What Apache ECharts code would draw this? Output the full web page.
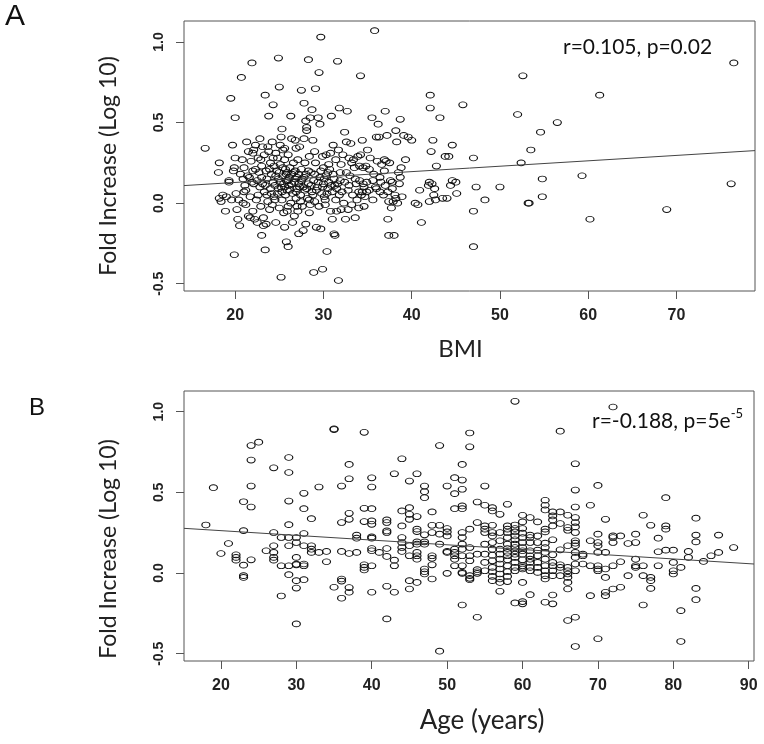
<!DOCTYPE html>
<html>
<head>
<meta charset="utf-8">
<script src="https://cdn.jsdelivr.net/npm/echarts@6/dist/echarts.min.js"></script>
<style>html,body{margin:0;padding:0;background:#fff;}#c{width:764px;height:744px;}</style>
</head>
<body>
<div id="c"></div>
<script>
// ---- Panel A: BMI vs fold increase ----
const pointsA = [
[16.6,0.34],[18.1,0.19],[18.2,0.25],[18.2,0.03],[18.4,0.01],[18.6,0.05],[18.9,-0.05],[19.0,0.04],[19.3,0.13],[19.3,0.14],[19.5,0.65],[19.7,0.36],[19.9,0.22],[20.0,0.28],[20.0,0.53],[19.9,-0.32],[19.6,0.02],[19.8,0.20],
[20.1,0.06],[20.2,-0.04],[20.3,-0.10],[20.5,-0.14],[20.4,0.02],[20.7,0.78],[20.8,0.27],[20.9,0.15],[20.9,0.00],[21.0,0.07],[21.1,0.11],[21.2,-0.01],[21.3,0.38],[21.4,0.17],[21.5,0.32],[21.5,-0.08],[21.6,0.16],[21.7,0.04],[21.8,0.26],[21.9,0.87],[21.9,0.13],[22.0,0.31],[22.0,-0.05],[22.1,0.12],[22.1,0.33],[21.2,0.08],[20.6,0.18],[21.7,-0.09],[22.2,-0.10],[22.3,0.21],[22.3,0.36],
[22.4,0.02],[22.5,0.14],[22.5,-0.12],[22.6,0.05],[22.7,0.19],[22.8,0.40],[22.8,0.10],[22.9,-0.02],[23.0,0.23],[23.0,-0.20],[23.1,0.35],[23.1,0.12],[23.2,-0.09],[23.3,0.30],[23.3,0.07],[23.4,0.67],[23.4,-0.29],[23.5,0.20],[23.5,-0.13],[23.6,0.15],[23.7,0.01],[23.8,0.32],[23.8,0.54],[23.9,-0.04],[24.0,0.25],[24.0,0.09],[24.1,0.18],[24.2,0.38],[24.2,-0.01],[24.3,0.61],[24.3,0.13],[23.6,0.05],[22.9,0.27],[24.4,0.04],[24.4,0.23],[23.2,-0.14],
[24.5,0.11],[24.6,-0.12],[24.6,0.31],[24.7,0.20],[24.8,0.06],[24.9,0.90],[24.9,0.15],[25.0,0.72],[25.0,-0.03],[25.1,0.36],[25.1,0.24],[25.2,0.41],[25.2,0.10],[25.2,-0.46],[25.3,0.46],[25.3,0.02],[25.4,0.17],[25.4,0.33],[25.5,0.12],[25.5,-0.06],[25.6,0.27],[25.6,-0.15],[25.7,0.21],[25.7,0.05],[25.8,0.14],[25.8,-0.24],[25.9,0.19],[25.9,0.08],[26.0,-0.02],[26.0,0.30],[26.0,-0.27],[26.1,0.16],[26.1,0.11],[26.2,0.22],[25.0,0.19],[24.8,0.28],[25.3,0.07],[25.6,0.34],
[26.3,0.54],[26.3,0.00],[26.4,0.18],[26.4,0.40],[26.5,-0.12],[26.5,0.06],[26.6,0.25],[26.7,0.13],[26.7,-0.08],[26.8,0.20],[26.8,0.39],[26.9,0.03],[27.0,0.16],[27.0,0.09],[27.1,-0.05],[27.1,0.27],[27.2,-0.19],[27.2,0.12],[27.3,0.35],[27.4,0.05],[27.5,0.70],[27.5,0.21],[27.6,-0.02],[27.6,0.15],[27.7,0.10],[27.7,-0.17],[27.8,0.62],[27.8,0.40],[27.9,0.08],[27.9,0.25],[28.0,0.51],[28.0,-0.13],[28.0,0.18],[26.9,0.34],[27.4,0.01],
[28.1,0.45],[28.1,0.47],[28.2,0.03],[28.3,0.12],[28.3,0.89],[28.4,-0.06],[28.4,0.29],[28.5,0.53],[28.6,0.19],[28.7,0.58],[28.7,0.07],[28.8,0.39],[28.9,-0.43],[28.9,0.14],[29.0,0.01],[29.1,0.71],[29.1,0.25],[29.2,-0.15],[29.3,0.10],[29.4,0.53],[29.5,0.81],[29.5,-0.02],[29.6,0.16],[29.6,0.49],[29.7,-0.16],[29.7,1.03],[29.8,0.06],[29.9,0.29],[29.9,-0.41],[30.0,0.12],[30.0,0.22],[28.5,-0.01],[29.0,0.32],
[30.1,0.04],[30.2,-0.01],[30.3,0.30],[30.3,0.17],[30.4,-0.30],[30.5,0.09],[30.6,0.13],[30.7,0.21],[30.8,-0.05],[30.8,0.31],[30.9,0.54],[31.0,0.07],[31.0,-0.10],[31.1,0.36],[31.2,0.15],[31.2,-0.19],[31.3,-0.20],[31.4,0.02],[31.4,0.27],[31.5,-0.05],[31.6,0.88],[31.6,0.12],[31.7,-0.48],[31.7,0.33],[31.8,0.59],[31.8,0.05],[31.9,0.19],[32.0,-0.04],[32.0,0.24],[30.5,0.19],[31.3,0.11],
[32.2,0.30],[32.3,0.00],[32.4,0.44],[32.4,0.13],[32.5,-0.10],[32.6,0.38],[32.7,0.57],[32.8,0.08],[32.9,0.28],[33.0,0.17],[33.1,0.37],[33.2,-0.01],[33.3,0.05],[33.5,0.22],[33.6,-0.09],[33.7,0.12],[33.8,0.02],[33.9,0.29],[34.0,0.07],[34.0,-0.03],[34.1,0.14],[33.4,0.27],
[34.2,0.79],[34.2,0.30],[34.3,0.05],[34.4,0.39],[34.5,0.22],[34.6,0.10],[34.7,0.04],[34.8,0.23],[34.9,0.13],[35.0,0.33],[35.2,0.08],[35.3,0.28],[35.5,0.53],[35.6,0.02],[35.7,0.18],[35.8,1.07],[35.9,0.10],[36.0,0.41],[36.1,0.26],[36.2,0.49],[34.4,0.07],
[36.3,0.41],[36.4,0.07],[36.5,0.13],[36.6,0.24],[36.8,0.05],[37.0,0.57],[37.1,0.26],[37.2,0.42],[37.3,-0.10],[37.4,0.01],[37.4,-0.20],[37.5,0.25],[37.6,0.14],[37.7,-0.03],[37.8,0.09],[37.9,0.01],[38.0,-0.20],[38.1,0.05],[38.2,0.45],[38.3,0.38],[38.4,0.00],[38.5,0.19],[38.6,0.12],[38.7,0.52],[38.8,0.22],[38.9,0.04],[39.1,0.42],[39.3,0.27],[39.6,0.41],[40.0,0.39],[37.0,0.11],[36.9,0.27],
[40.4,0.00],[40.7,-0.01],[40.9,0.08],[41.1,-0.12],[42.0,0.01],[42.1,0.67],[42.1,0.59],[42.2,0.32],[42.3,0.12],[42.4,0.39],[42.5,0.05],[42.6,0.09],[42.7,0.02],[42.8,0.23],[43.2,0.53],[43.5,0.03],[43.8,0.29],[44.0,0.03],[44.2,0.29],[44.4,0.11],[44.6,0.36],[44.6,0.14],[45.0,0.13],[45.1,0.06],[45.8,0.61],[47.0,0.28],[47.0,-0.05],[47.0,-0.27],[47.3,0.10],[48.3,0.02],[50.0,0.10],[41.9,0.11],[42.0,0.13],
[52.0,0.55],[52.4,0.25],[52.6,0.79],[53.2,0.00],[53.3,0.00],[53.5,0.33],[54.6,0.44],[54.8,0.15],[54.8,0.04],[56.5,0.50],[59.3,0.17],[60.2,-0.10],[61.3,0.67],[68.9,-0.04],[76.2,0.12],[76.5,0.87],
[23.0,0.16],[23.4,0.11],[23.9,0.21],[24.1,0.06],[24.3,0.28],[24.6,0.17],[24.9,0.09],[25.1,0.13],[25.4,0.22],[25.6,0.10],[25.8,0.18],[26.0,0.14],[26.2,0.08],[26.4,0.12],[26.6,0.19],[26.8,0.15],[26.9,0.07],[27.2,0.18],[27.3,0.10],[27.5,0.14],[27.8,0.16],[28.1,0.09],[28.3,0.20],[28.6,0.11],[28.8,0.05],[29.0,0.18],[29.2,0.08],[29.4,0.13],[29.7,0.20],[29.9,0.10],[30.1,0.15],[30.4,0.06],[30.6,0.24],[30.9,0.11],[31.1,0.18],[31.5,0.09],[31.9,0.14],[32.1,0.07],[32.6,0.19],[32.9,0.11],[33.2,0.25],[33.6,0.15],[34.1,0.23],[34.5,0.12],[34.9,0.07],[35.2,0.21],[35.6,0.14],[36.0,0.09],[36.4,0.16],[36.9,0.20],[37.3,0.07],[37.8,0.13],[38.2,0.03],[38.7,0.16],[22.6,0.28],[23.7,0.35],[24.5,0.02],[25.9,-0.05],[27.0,-0.02],[28.4,0.02],[30.2,0.02],[32.8,-0.04],[34.6,-0.02],[21.0,0.22],[22.0,0.20]
];
const fitLineA = [[14.2,0.109],[78.9,0.326]];
const xTicksA = [20,30,40,50,60,70];

// ---- Panel B: Age vs fold increase ----
const pointsB = [
[18,0.298],[19,0.529],[20,0.121],[21,0.183],
[22,0.113],[22,0.097],[22,0.080],
[23,0.442],[23,0.263],[23,0.049],[23,-0.016],[23,-0.027],
[24,0.790],[24,0.700],[24,0.539],[24,0.409],[24,0.082],
[25,0.811],[26,0.138],
[27,0.652],[27,0.251],[27,0.169],[27,0.128],[27,0.097],[27,0.080],
[28,0.220],[28,0.045],[28,-0.142],
[29,0.716],[29,0.623],[29,0.446],[29,0.300],[29,0.220],[29,0.169],[29,0.045],[29,-0.010],
[30,0.220],[30,0.189],[30,0.097],[30,0.051],[30,0.055],[30,-0.047],[30,-0.093],[30,-0.315],
[31,0.494],[31,0.399],[31,0.245],[31,0.169],[31,0.056],[31,0.045],[31,-0.041],
[32,0.337],[32,0.169],[32,0.148],[32,0.128],
[33,0.533],[33,0.128],
[34,0.134],[34,0.070],
[35,0.893],[35,0.889],[35,-0.088],
[36,0.539],[36,0.313],[36,0.134],[36,-0.037],[36,-0.050],[36,-0.156],
[37,0.673],[37,0.584],[37,0.370],[37,0.333],[37,0.121],[37,-0.090],[37,-0.119],
[38,0.235],[38,0.216],[38,0.128],
[39,0.872],[39,0.401],[39,0.319],[39,0.051],[39,0.035],[39,0.019],
[40,0.590],[40,0.533],[40,0.399],[40,0.323],[40,0.302],[40,0.224],[40,0.216],[40,0.152],[40,0.138],[40,0.045],[40,-0.119],
[41,0.128],
[42,0.329],[42,0.313],[42,0.261],[42,0.251],[42,0.152],[42,0.103],[42,-0.082],[42,-0.284],
[43,0.615],[43,0.080],[43,0.045],[43,-0.119],
[44,0.708],[44,0.385],[44,0.292],[44,0.220],[44,0.189],[44,0.158],[44,0.134],
[45,0.570],[45,0.405],[45,0.364],[45,0.333],[45,0.169],[45,0.107],[45,-0.047],[45,-0.099],
[46,0.615],[46,0.350],[46,0.272],[46,0.257],[46,0.193],[46,0.179],[46,0.128],[46,0.107],[46,0.086],[46,-0.058],
[47,0.539],[47,0.504],[47,0.467],[47,0.237],[47,0.193],[47,0.179],[47,0.025],[47,0.008],[47,-0.006],
[48,0.379],[48,0.296],[48,0.251],[48,0.107],[48,0.091],[48,0.051],[48,-0.037],
[49,0.790],[49,0.296],[49,0.241],[49,0.179],[49,-0.484],
[50,0.539],[50,0.276],[50,0.255],[50,0.230],[50,0.134],[50,0.128],[50,-0.002],
[51,0.591],[51,0.492],[51,0.399],[51,0.148],[51,0.128],[51,0.107],[51,0.086],[51,0.045],
[52,0.673],[52,0.576],[52,0.519],[52,0.416],[52,0.399],[52,0.251],[52,0.220],[52,0.179],[52,0.148],[52,0.107],[52,0.045],[52,0.004],[52,-0.002],[52,-0.198],
[53,0.868],[53,0.782],[53,0.272],[53,0.158],[53,0.107],[53,0.076],[53,-0.016],[53,-0.033],[53,-0.041],
[54,0.440],[54,0.313],[54,0.117],[54,0.021],[54,0.008],[54,-0.002],[54,-0.274],
[55,0.539],[55,0.420],[55,0.292],[55,0.272],[55,0.251],[55,0.179],[55,0.117],[55,0.066],[55,0.014],
[56,0.405],[56,0.385],[56,0.296],[56,0.251],[56,0.230],[56,0.189],[56,0.148],[56,0.111],[56,0.076],[56,0.035],[56,0.008],[56,-0.021],[56,-0.047],
[57,0.364],[57,0.251],[57,0.200],[57,0.148],[57,0.117],[57,0.086],[57,0.056],[57,0.025],[57,-0.006],[57,-0.037],[57,-0.058],[57,-0.113],
[58,0.426],[58,0.292],[58,0.272],[58,0.251],[58,0.220],[58,0.179],[58,0.152],[58,0.128],[58,0.107],[58,0.082],[58,0.045],[58,0.008],[58,-0.021],[58,-0.053],
[59,1.064],[59,0.298],[59,0.276],[59,0.255],[59,0.230],[59,0.206],[59,0.179],[59,0.158],[59,0.138],[59,0.117],[59,0.097],[59,0.066],[59,0.035],[59,0.014],[59,-0.185],
[60,0.358],[60,0.317],[60,0.276],[60,0.247],[60,0.220],[60,0.189],[60,0.158],[60,0.138],[60,0.117],[60,0.082],[60,0.045],[60,0.035],[60,0.025],[60,-0.058],[60,-0.177],[60,-0.191],
[61,0.344],[61,0.235],[61,0.220],[61,0.189],[61,0.138],[61,0.107],[61,0.086],[61,0.066],[61,0.035],[61,0.014],[61,-0.134],
[62,0.317],[62,0.230],[62,0.189],[62,0.142],[62,0.107],[62,0.066],[62,0.035],[62,0.004],
[63,0.451],[63,0.420],[63,0.391],[63,0.272],[63,0.255],[63,0.185],[63,0.158],[63,0.128],[63,0.086],[63,0.045],[63,0.014],[63,-0.016],[63,-0.037],[63,-0.181],
[64,0.379],[64,0.354],[64,0.329],[64,0.292],[64,0.206],[64,0.113],[64,0.066],[64,0.045],[64,0.014],[64,-0.016],[64,-0.136],[64,-0.191],
[65,0.879],[65,0.379],[65,0.307],[65,0.144],[65,0.051],[65,0.035],[65,-0.016],
[66,0.358],[66,0.282],[66,0.265],[66,0.169],[66,0.035],[66,0.014],[66,-0.006],[66,-0.027],[66,-0.058],[66,-0.099],[66,-0.294],
[67,0.677],[67,0.514],[67,0.409],[67,0.344],[67,0.313],[67,0.286],[67,0.251],[67,0.200],[67,0.185],[67,0.169],[67,0.128],[67,0.097],[67,0.056],[67,0.014],[67,-0.274],[67,-0.455],
[68,0.117],[68,0.107],[68,0.056],
[69,0.420],[69,0.200],[69,0.045],[69,-0.140],
[70,0.543],[70,0.241],[70,0.189],[70,0.169],[70,0.128],[70,0.045],[70,0.025],[70,0.014],[70,-0.407],
[71,0.333],[71,0.128],[71,0.025],[71,-0.027],[71,-0.119],[71,-0.140],
[72,1.029],[72,0.230],[72,0.220],[72,0.189],[72,0.045],[72,-0.099],
[73,0.230],[73,0.070],[73,-0.088],
[74,0.183],[74,-0.016],
[75,0.241],[75,0.189],[75,0.086],[75,0.045],[75,0.035],
[76,0.358],[76,0.045],[76,-0.016],[76,-0.198],
[77,0.296],[77,-0.027],[77,-0.047],[77,-0.095],
[78,0.216],[78,0.132],[78,0.045],
[79,0.467],[79,0.292],[79,0.272],[79,0.142],
[80,0.142],[80,0.066],[80,0.014],[80,-0.006],
[81,0.035],[81,-0.233],[81,-0.424],
[82,0.134],[82,0.097],
[83,0.340],[83,0.235],[83,0.193],[83,-0.095],[83,-0.165],
[84,0.072],[85,0.107],[86,0.235],[86,0.128],[88,0.158]
];
const fitLineB = [[15.1,0.277],[90.7,0.056]];
const xTicksB = [20,30,40,50,60,70,80,90];

const yTicks = [-0.5, 0, 0.5, 1.0];
const yTitle = 'Fold Increase (Log 10)';

const FRAME = '#555';
const SANS = '"Liberation Sans", Arial, sans-serif';
const LABEL_FONT = 'Lato, "Liberation Sans", sans-serif';
// open ellipse marker (stretched to symbolSize)
const RING = 'path://M1,0A1,1 0 1 1 -1,0A1,1 0 1 1 1,0Z';

function xAxisCfg(idx, min, max, ticks, name, gap, pad, size) {
  return {
    type: 'value', gridIndex: idx, min: min, max: max,
    axisLine: { show: false, onZero: false },
    splitLine: { show: false },
    axisTick: { show: true, length: 8, lineStyle: { color: FRAME, width: 1 }, customValues: ticks },
    axisLabel: { customValues: ticks, margin: 17, fontFamily: SANS, fontWeight: 'bold', fontSize: 16, color: '#222' },
    name: name, nameLocation: 'middle', nameGap: gap,
    nameTextStyle: { fontFamily: LABEL_FONT, fontSize: size, color: '#222', padding: pad }
  };
}
function yAxisCfg(idx, min, max) {
  return {
    type: 'value', gridIndex: idx, min: min, max: max,
    axisLine: { show: false, onZero: false },
    splitLine: { show: false },
    axisTick: { show: true, length: 8, lineStyle: { color: FRAME, width: 1 }, customValues: yTicks },
    axisLabel: { customValues: yTicks, rotate: 90, margin: 18, fontFamily: SANS, fontWeight: 'bold', fontSize: 14, color: '#222',
      formatter: function (v) { return Number(v).toFixed(1); } }
  };
}
function scatterCfg(idx, data) {
  return {
    type: 'scatter', xAxisIndex: idx, yAxisIndex: idx, data: data,
    symbol: RING, symbolKeepAspect: false, symbolSize: [8, 5.8], silent: true,
    itemStyle: { color: 'rgba(255,255,255,0)', borderColor: '#111', borderWidth: 1, opacity: 1 }
  };
}
function lineCfg(idx, data) {
  return {
    type: 'line', xAxisIndex: idx, yAxisIndex: idx, data: data, showSymbol: false, silent: true,
    lineStyle: { color: '#444', width: 1 }, z: 3
  };
}

const chart = echarts.init(document.getElementById('c'), null, { renderer: 'canvas' });
chart.setOption({
  animation: false,
  backgroundColor: '#fff',
  grid: [
    { left: 184, top: 21, width: 571, height: 270, show: true, borderColor: FRAME, borderWidth: 1, backgroundColor: 'transparent' },
    { left: 184, top: 391, width: 570, height: 270, show: true, borderColor: FRAME, borderWidth: 1, backgroundColor: 'transparent' }
  ],
  xAxis: [
    xAxisCfg(0, 14.2, 78.9, xTicksA, 'BMI', 46, [0, 18, 0, 0], 24),
    xAxisCfg(1, 15.1, 90.7, xTicksB, 'Age (years)', 47, [0, 0, 0, 26], 26)
  ],
  yAxis: [
    yAxisCfg(0, -0.545, 1.13),
    yAxisCfg(1, -0.545, 1.128)
  ],
  series: [
    scatterCfg(0, pointsA), lineCfg(0, fitLineA),
    scatterCfg(1, pointsB), lineCfg(1, fitLineB)
  ],
  graphic: [
    { type: 'text', left: 5, top: 2, style: { text: 'A', font: '30px ' + SANS, fill: '#111' } },
    { type: 'text', left: 29, top: 396, style: { text: 'B', font: '24px ' + SANS, fill: '#111' } },
    { type: 'text', x: 109, y: 166, rotation: Math.PI / 2,
      style: { text: yTitle, font: '23px ' + LABEL_FONT, fill: '#222', align: 'center', verticalAlign: 'middle' } },
    { type: 'text', x: 109, y: 549, rotation: Math.PI / 2,
      style: { text: yTitle, font: '23px ' + LABEL_FONT, fill: '#222', align: 'center', verticalAlign: 'middle' } },
    { type: 'text', x: 563, y: 47.5, style: { text: 'r=0.105, p=0.02', font: '21px ' + LABEL_FONT, fill: '#111', verticalAlign: 'middle' } },
    { type: 'text', x: 592, y: 419.5, style: {
        text: '{m|r=-0.188, p=5e}{s|-5}', verticalAlign: 'middle',
        rich: {
          m: { fontFamily: LABEL_FONT, fontSize: 21, fill: '#111', color: '#111', lineHeight: 24, verticalAlign: 'bottom' },
          s: { fontFamily: LABEL_FONT, fontSize: 13, fill: '#111', color: '#111', lineHeight: 24, verticalAlign: 'top' }
        } } }
  ]
});
</script>
</body>
</html>
